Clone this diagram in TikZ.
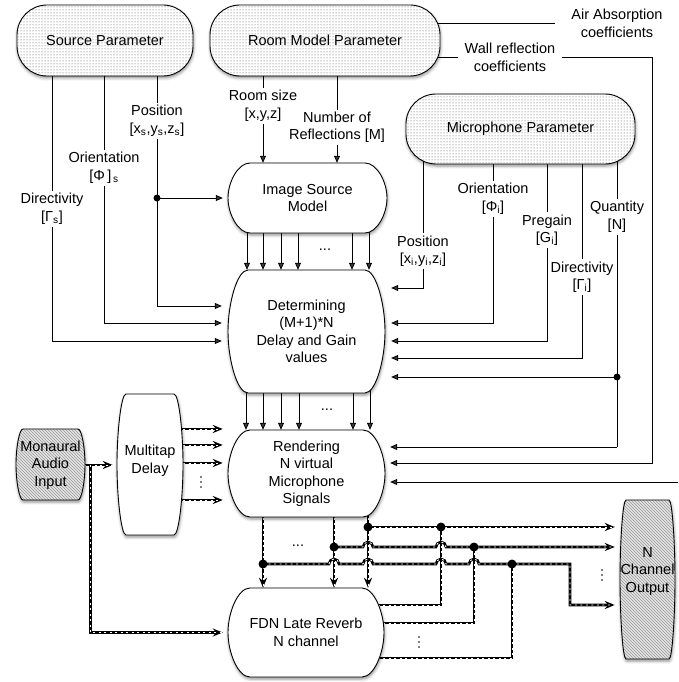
\documentclass[tikz,border=0pt]{standalone}
\usepackage{fontspec}
\setmainfont{Liberation Sans}
\usetikzlibrary{arrows.meta,patterns,shadows.blur,backgrounds}

\newcommand\barrel[6]{% #1 style, #2 L, #3 T, #4 R, #5 B, #6 d
  \pgfmathsetmacro\bh{0.55*((#5)-(#3))/2}%
  \pgfmathsetmacro\bm{((#3)+(#5))/2}%
  \draw[#1] ({#2+#6},#3) -- ({#4-#6},#3)
   .. controls ({#4-0.45*#6},#3) and (#4,{#3+(\bh)}) .. (#4,\bm)
   .. controls (#4,{#5-(\bh)}) and ({#4-0.45*#6},#5) .. ({#4-#6},#5)
   -- ({#2+#6},#5)
   .. controls ({#2+0.45*#6},#5) and (#2,{#5-(\bh)}) .. (#2,\bm)
   .. controls (#2,{#3+(\bh)}) and ({#2+0.45*#6},#3) .. ({#2+#6},#3) -- cycle;}

\newcommand\vdotsat[1]{\foreach \vv in {-5,0,5} \fill ([yshift=\vv pt]#1) circle (0.9pt);}

\begin{document}
\begin{tikzpicture}[x=1pt,y=1pt,
  txt/.style={font=\fontsize{14.5}{17.5}\selectfont, align=center, inner sep=0pt},
  lbl/.style={txt, fill=white, inner sep=2pt},
  shd/.style={blur shadow={shadow xshift=0.5pt, shadow yshift=-2pt, shadow blur radius=3pt, shadow opacity=45}},
  param/.style={txt, draw, line width=0.9pt, rounded corners=30pt, shd, preaction={fill=white}, pattern=dots, pattern color=black!70},
  box/.style={draw, line width=0.9pt, fill=white, shd},
  hbox/.style={draw, line width=0.9pt, shd, preaction={fill=gray!20}, pattern=north west lines, pattern color=gray!80},
  arr/.style={line width=0.8pt, -{Triangle[length=7pt,width=6pt]}},
  ln/.style={line width=0.8pt},
  dl/.style={line width=2.6pt, postaction={draw=white, line width=0.9pt, dash pattern=on 2pt off 3.5pt, arrows=-}},
  darr/.style={dl, -{Stealth[length=10pt,width=8pt]}},
]
\useasboundingbox (0,0) rectangle (678,-682);

% ---- box outlines
\barrel{box}{228}{-163}{387}{-233}{22}
\barrel{box}{228}{-270}{385}{-393}{20}
\barrel{box}{228}{-430}{385}{-517}{22}
\barrel{box}{228}{-588}{384}{-677}{22}
\barrel{box}{117}{-394}{183}{-535}{9}
\barrel{hbox}{16}{-429}{85}{-500}{7}
\barrel{hbox}{620}{-500}{675}{-659}{6}

% ---- box texts
\node[txt, minimum width=169pt, minimum height=70pt] (ism) at (307.5,-198) {Image Source\\Model};
\node[txt, minimum width=169pt, minimum height=123pt] (det) at (306.5,-331.5) {Determining\\(M+1)*N\\Delay and Gain\\values};
\node[txt, minimum width=167pt, minimum height=87pt] (rend) at (306.5,-473.5) {Rendering\\N virtual\\Microphone\\Signals};
\node[txt, minimum width=166pt, minimum height=89pt] (fdn) at (306,-632.5) {FDN Late Reverb\\N channel};
\node[txt, minimum width=74pt, minimum height=141pt] (mtd) at (150,-460.5) {Multitap\\Delay};
\node[txt, minimum width=71pt, minimum height=71pt] (mono) at (50.5,-465) {Monaural\\Audio\\Input};
\node[txt, minimum width=65pt, minimum height=159pt] (out) at (647.5,-571.5) {N\\Channel\\Output};

% ---- parameter stadiums
\node[param, minimum width=176pt, minimum height=71pt] (src) at (105,-40.5) {Source Parameter};
\node[param, minimum width=230pt, minimum height=71pt] (room) at (325,-40.5) {Room Model Parameter};
\node[param, minimum width=229pt, minimum height=70pt] (mic) at (520.5,-129) {Microphone Parameter};

% ---- labels
\node[lbl] (lposs) at (157,-121) {Position\\{}[x\textsubscript{s},y\textsubscript{s},z\textsubscript{s}]};
\node[lbl] (loris) at (104,-168) {Orientation\\{}[Φ\,]\textsubscript{\,s}};
\node[lbl] (ldirs) at (52,-209) {Directivity\\{}[Γ\textsubscript{s}]};
\node[lbl] (lroom) at (263,-106) {Room size\\{}[x,y,z]};
\node[lbl] (lnum) at (337,-127.5) {Number of\\Reflections [M]};
\node[lbl] (lposi) at (423,-251) {Position\\{}[x\textsubscript{i},y\textsubscript{i},z\textsubscript{i}]};
\node[lbl] (lorii) at (493,-199) {Orientation\\{}[Φ\textsubscript{i}]};
\node[lbl] (lpre) at (547,-230) {Pregain\\{}[G\textsubscript{i}]};
\node[lbl] (ldiri) at (582,-277) {Directivity\\{}[Γ\textsubscript{i}]};
\node[lbl] (lqty) at (617,-217) {Quantity\\{}[N]};
\node[lbl, inner xsep=7pt] (lwall) at (510,-57.5) {Wall reflection\\coefficients};
\node[txt] (lair) at (617,-23.5) {Air Absorption\\coefficients};

% ---- ellipses
\node[txt] (hd1) at (325,-250) {...};
\node[txt] (hd2) at (327,-410) {...};
\node[txt] (hd3) at (298,-546) {...};
\coordinate (vd1) at (201,-482);
\coordinate (vd2) at (602,-575);
\coordinate (vd3) at (419,-642);
\vdotsat{vd1}
\vdotsat{vd2}
\vdotsat{vd3}

% ---- coordinates
\coordinate (qdot) at (617,-377);
\coordinate (qend) at (617,-447);
\coordinate (wallc) at (652,-463);
\coordinate (airend) at (678,-482);
\coordinate (c1) at (441,-527);
\coordinate (c2) at (474,-547);
\coordinate (c3) at (512,-564);
\coordinate (a1) at (368,-527);
\coordinate (a2) at (334,-547);
\coordinate (a3) at (263,-564);
\coordinate (bend) at (570,-564);

\begin{pgfonlayer}{background}
% source parameter
\draw[arr] (src.center -| lposs) |- ([yshift=25.5pt]det.west);
\draw[arr] (src.center -| loris) |- ([yshift=8.5pt]det.west);
\draw[arr] (src.center -| ldirs) |- ([yshift=-9.5pt]det.west);
\draw[arr] (lposs |- ism.west) -- (ism.west);
% room model
\draw[arr] (room.center -| lroom) -- (ism.north -| lroom);
\draw[arr] (room.center -| lnum) -- (ism.north -| lnum);
\draw[ln] (room.center |- lair.west) -- ([xshift=-16pt]lair.west);
\draw[arr] (room.center |- lwall) -| (wallc) -- (rend.east |- wallc);
% microphone
\draw[ln] (mic.center -| lqty) -- (qend);
\draw[arr] (qdot) -- (det.east |- qdot);
\draw[arr] (qend) -- (rend.east |- qend);
\draw[arr] (mic.center -| lposi) |- ([yshift=43.5pt]det.east);
\draw[arr] (mic.center -| lorii) |- ([yshift=8.5pt]det.east);
\draw[arr] (mic.center -| lpre) |- ([yshift=-9.5pt]det.east);
\draw[arr] (mic.center -| ldiri) |- ([yshift=-26.5pt]det.east);
\draw[arr] (airend) -- (rend.east |- airend);
% box to box
\foreach \dx in {-60.5,-44.5,-26.5,-9.5,44.5,61.5}
  \draw[arr] ([xshift=\dx pt]ism.center) -- ([xshift=\dx pt]ism.center |- det.north);
\foreach \dx in {-60.5,-43.5,-25.5,-7.5,46.5,63.5}
  \draw[arr] ([xshift=\dx pt]det.center) -- ([xshift=\dx pt]det.center |- rend.north);
% signal path
\draw[darr] (mono.center) -- (mtd.west |- mono.center);
\draw[darr] ([xshift=4pt]mono.east) |- (fdn.west);
\foreach \dy in {44.5,28.5,10.5,-26.5}
  \draw[darr] ([yshift=\dy pt]rend.west -| mtd.center) -- ([yshift=\dy pt]rend.west);
\foreach \dx in {-43.5,27.5,61.5}
  \draw[darr] ([xshift=\dx pt]rend.center) -- ([xshift=\dx pt]rend.center |- fdn.north);
\draw[dl] ([yshift=27.5pt]fdn.center) -| (c1);
\draw[dl] ([yshift=9.5pt]fdn.center) -| (c2);
\draw[dl] ([yshift=-25.5pt]fdn.center) -| (c3);
\draw[darr] (a1) -- (out.west |- a1);
\draw[darr] (a2) -- (363,-547) arc[start angle=180,end angle=0,radius=5pt]
  -- (436,-547) arc[start angle=180,end angle=0,radius=5pt] -- (out.west |- a2);
\draw[darr] (a3) -- (329,-564) arc[start angle=180,end angle=0,radius=5pt]
  -- (363,-564) arc[start angle=180,end angle=0,radius=5pt]
  -- (436,-564) arc[start angle=180,end angle=0,radius=5pt]
  -- (469,-564) arc[start angle=180,end angle=0,radius=5pt]
  -- (bend) |- ([yshift=-33.5pt]out.west);
\end{pgfonlayer}

% ---- junction dots
\fill (lposs |- ism.west) circle (3.5pt);
\fill (qdot) circle (3.5pt);
\foreach \p in {a1,a2,a3,c1,c2,c3} \fill (\p) circle (4.5pt);
\end{tikzpicture}
\end{document}
